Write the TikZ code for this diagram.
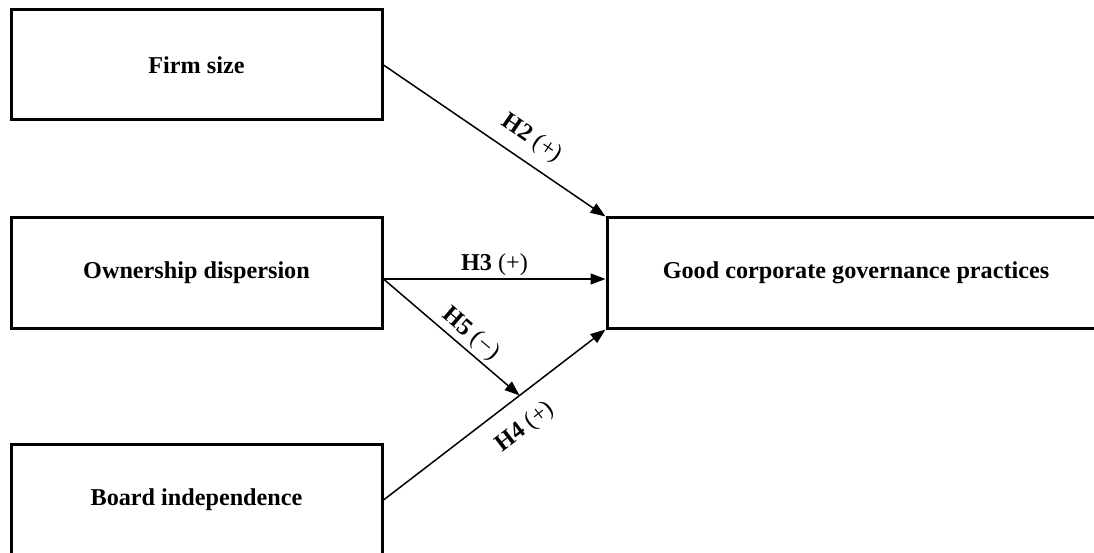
\documentclass[tikz,border=0pt]{standalone}
\usepackage{fontspec}
\setmainfont{Liberation Serif}
\usetikzlibrary{arrows.meta,calc}
\begin{document}
\begin{tikzpicture}[x=1pt,y=1pt,
  box/.style={draw,line width=3pt,minimum width=371pt,minimum height=110pt,inner sep=0pt,
    font=\fontsize{24.2}{28}\selectfont\bfseries},
  link/.style={line width=1.5pt,-{Triangle[length=15pt,width=11pt]}},
  lab/.style={font=\fontsize{24.2}{28}\selectfont,sloped,inner sep=3pt}]
\useasboundingbox (0,0) rectangle (1094,552);
\clip (0,0) rectangle (1094,552);
\node[box] (firm) at (196.5,487) {Firm size};
\node[box] (own) at (196.5,279) {Ownership dispersion};
\node[box,minimum height=112pt] (board) at (196.5,52) {Board independence};
\node[box,minimum width=498pt] (good) at (856,279) {Good corporate governance practices};
\coordinate (os) at ($(own.east)+(0,-6)$);
\coordinate (ge) at ($(good.west)+(0,-6)$);
\coordinate (m) at ($(board.east)!0.613!(good.south west)$);
\draw[link] (firm.east) -- node[lab,above=8pt,pos=0.61] {\textbf{H2} (+)} (good.north west);
\draw[link] (os) -- node[lab,above,pos=0.5] {\textbf{H3} (+)} (ge);
\draw[link] (os) -- node[lab,above,pos=0.57] {\textbf{H5} (−)} (m);
\draw[link] (board.east) -- node[lab,below=14pt,pos=0.56] {\textbf{H4} (+)} (good.south west);
\end{tikzpicture}
\end{document}
